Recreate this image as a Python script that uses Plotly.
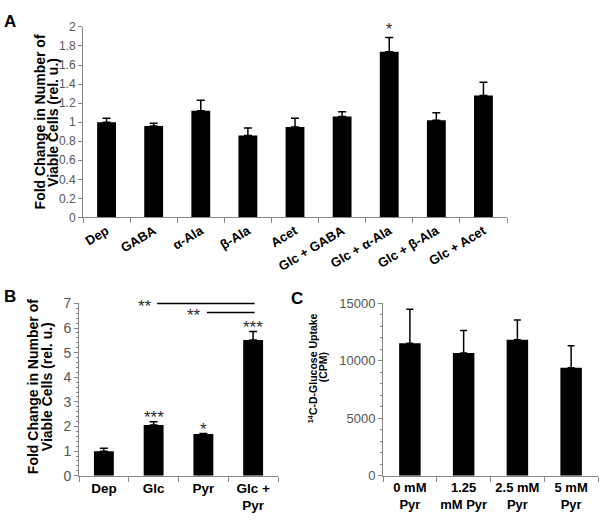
import plotly.graph_objects as go

W, H = 604, 528
FONT = "Arial, Liberation Sans, sans-serif"
AXIS_GRAY = "#868686"
TICK_GRAY = "#555555"
STAR_GRAY = "#2b2b2b"

# ---------------- Data ----------------
a_cats = ["Dep", "GABA", "α-Ala", "β-Ala", "Acet", "Glc + GABA", "Glc + α-Ala", "Glc + β-Ala", "Glc + Acet"]
a_vals = [1.00, 0.96, 1.12, 0.86, 0.95, 1.06, 1.74, 1.02, 1.28]
a_errs = [0.04, 0.03, 0.11, 0.08, 0.09, 0.05, 0.15, 0.08, 0.14]
a_stars = ["", "", "", "", "", "", "*", "", ""]
a_ticks = [0, 0.2, 0.4, 0.6, 0.8, 1.0, 1.2, 1.4, 1.6, 1.8, 2.0]
a_ticklabels = ["0", "0.2", "0.4", "0.6", "0.8", "1", "1.2", "1.4", "1.6", "1.8", "2"]

b_cats = ["Dep", "Glc", "Pyr", "Glc +<br>Pyr"]
b_vals = [0.99, 2.06, 1.69, 5.52]
b_errs = [0.13, 0.13, 0.02, 0.34]
b_stars = ["", "***", "*", "***"]
b_ticks = [0, 1, 2, 3, 4, 5, 6, 7]
b_ticklabels = ["0", "1", "2", "3", "4", "5", "6", "7"]
# comparisons: (from category, to category, y level, label)
b_brackets = [("Glc", "Glc +<br>Pyr", 7.0, "**"), ("Pyr", "Glc +<br>Pyr", 6.63, "**")]

c_cats = ["0 mM<br>Pyr", "1.25<br>mM Pyr", "2.5 mM<br>Pyr", "5 mM<br>Pyr"]
c_vals = [11540, 10690, 11850, 9400]
c_errs = [2950, 1950, 1720, 1910]
c_ticks = [0, 5000, 10000, 15000]
c_ticklabels = ["0", "5000", "10000", "15000"]


def px_x(p):
    return p / W


def px_y(p):
    return 1 - p / H


fig = go.Figure()


def add_bars(cats, vals, errs, xa, ya, capw):
    fig.add_trace(go.Bar(
        x=cats, y=vals, xaxis=xa, yaxis=ya,
        marker=dict(color="black", line=dict(width=0)),
        error_y=dict(type="data", symmetric=False, array=errs,
                     arrayminus=[0] * len(errs), color="black",
                     thickness=1.5, width=capw),
        showlegend=False, hoverinfo="skip",
    ))


add_bars(a_cats, a_vals, a_errs, "x", "y", 4)
add_bars(b_cats, b_vals, b_errs, "x2", "y2", 4)
add_bars(c_cats, c_vals, c_errs, "x3", "y3", 3.5)

# domains (pixel boxes)
A_box = (83, 507, 19.5, 216)
B_box = (79, 278, 304.7, 482.3)
C_box = (383, 598, 304.7, 482.3)


def xdom(b):
    return [px_x(b[0]), px_x(b[1])]


def ydom(b):
    return [px_y(b[3]), px_y(b[2])]


common_x = dict(showline=True, linecolor=AXIS_GRAY, linewidth=1,
                ticks="outside", tickcolor=AXIS_GRAY, ticklen=5,
                tickson="boundaries", showgrid=False, zeroline=False,
                fixedrange=True)
common_y = dict(showline=True, linecolor=AXIS_GRAY, linewidth=1,
                ticks="outside", tickcolor=AXIS_GRAY, ticklen=4,
                showgrid=False, zeroline=False, fixedrange=True)

fig.update_layout(
    width=W, height=H, autosize=False,
    margin=dict(l=0, r=0, t=0, b=0),
    paper_bgcolor="white", plot_bgcolor="white",
    bargap=0.6,
    font=dict(family=FONT, color="black"),
    xaxis=dict(domain=xdom(A_box), anchor="y", type="category",
               categoryorder="array", categoryarray=a_cats,
               range=[-0.5, len(a_cats) - 0.5],
               tickangle=-31,
               tickfont=dict(size=13, color="black", weight="bold", family=FONT),
               **common_x),
    yaxis=dict(domain=ydom(A_box), anchor="x", range=[0, 2],
               tickmode="array", tickvals=a_ticks, ticktext=a_ticklabels,
               tickfont=dict(size=12, color=TICK_GRAY, family=FONT),
               **common_y),
    xaxis2=dict(domain=xdom(B_box), anchor="y2", type="category",
                categoryorder="array", categoryarray=b_cats,
                range=[-0.5, len(b_cats) - 0.5],
                tickangle=0,
                tickfont=dict(size=13.5, color="black", weight="bold", family=FONT),
                **common_x),
    yaxis2=dict(domain=ydom(B_box), anchor="x2", range=[0, 7],
                tickmode="array", tickvals=b_ticks, ticktext=b_ticklabels,
                tickfont=dict(size=14, color=TICK_GRAY, family=FONT),
                minor=dict(dtick=0.2, ticks="outside", ticklen=2.5, tickcolor=AXIS_GRAY),
                **common_y),
    xaxis3=dict(domain=xdom(C_box), anchor="y3", type="category",
                categoryorder="array", categoryarray=c_cats,
                range=[-0.5, len(c_cats) - 0.5],
                tickangle=0,
                tickfont=dict(size=13, color="black", weight="bold", family=FONT),
                **common_x),
    yaxis3=dict(domain=ydom(C_box), anchor="x3", range=[0, 15000],
                tickmode="array", tickvals=c_ticks, ticktext=c_ticklabels,
                tickfont=dict(size=13, color=TICK_GRAY, family=FONT),
                minor=dict(dtick=1000, ticks="outside", ticklen=2.5, tickcolor=AXIS_GRAY),
                **common_y),
)

ann = []

# Panel letters
for letter, (lx, ly) in {"A": (10, 14), "B": (10, 297), "C": (297, 300)}.items():
    ann.append(dict(text=f"<b>{letter}</b>", x=px_x(lx), y=px_y(ly), xref="paper", yref="paper",
                    showarrow=False, xanchor="center", yanchor="middle",
                    font=dict(size=17, color="black", family=FONT)))


# Y axis titles (two separate lines for tight spacing)
def ytitle(lines, xs, yc, size):
    for t, x in zip(lines, xs):
        ann.append(dict(text=f"<b>{t}</b>", x=px_x(x), y=px_y(yc), xref="paper", yref="paper",
                        showarrow=False, textangle=-90, xanchor="center", yanchor="middle",
                        font=dict(size=size, color="black", family=FONT)))


ytitle(["Fold Change in Number of", "Viable Cells (rel. u.)"], [40, 53.5], 118, 14)
ytitle(["Fold Change in Number of", "Viable Cells (rel. u.)"], [33, 47], 391, 14)
ytitle(["<sup>14</sup>C-D-Glucose Uptake", "(CPM)"], [312.5, 322.5], 371, 10.5)


# Significance stars over bars
def stars(cats, vals, errs, labels, xr, yr, size, shift):
    for c, v, e, s in zip(cats, vals, errs, labels):
        if s:
            ann.append(dict(text=s, x=c, y=v + e, xref=xr, yref=yr, showarrow=False,
                            xanchor="center", yanchor="bottom", yshift=shift,
                            font=dict(size=size, color=STAR_GRAY, family=FONT)))


stars(a_cats, a_vals, a_errs, a_stars, "x", "y", 16, -3)
stars(b_cats, b_vals, b_errs, b_stars, "x2", "y2", 17, -7)

# Brackets in panel B (y in paper coords so the top line is not clipped)
b_dom = ydom(B_box)
shapes = []
for c_from, c_to, lvl, lab in b_brackets:
    i0 = b_cats.index(c_from)
    i1 = b_cats.index(c_to)
    yp = b_dom[0] + lvl / 7.0 * (b_dom[1] - b_dom[0])
    shapes.append(dict(type="line", xref="x2", yref="paper", x0=i0 + 0.07, x1=i1 + 0.03,
                       y0=yp, y1=yp, line=dict(color="black", width=1.5)))
    ann.append(dict(text=lab, x=i0 + 0.0, y=yp, xref="x2", yref="paper", showarrow=False,
                    xanchor="right", yanchor="middle", yshift=-3,
                    font=dict(size=17, color=STAR_GRAY, family=FONT)))

fig.update_layout(annotations=ann, shapes=shapes)

fig.write_html("out.html", config={"displayModeBar": False},
               post_script="document.body.style.margin='0';")
